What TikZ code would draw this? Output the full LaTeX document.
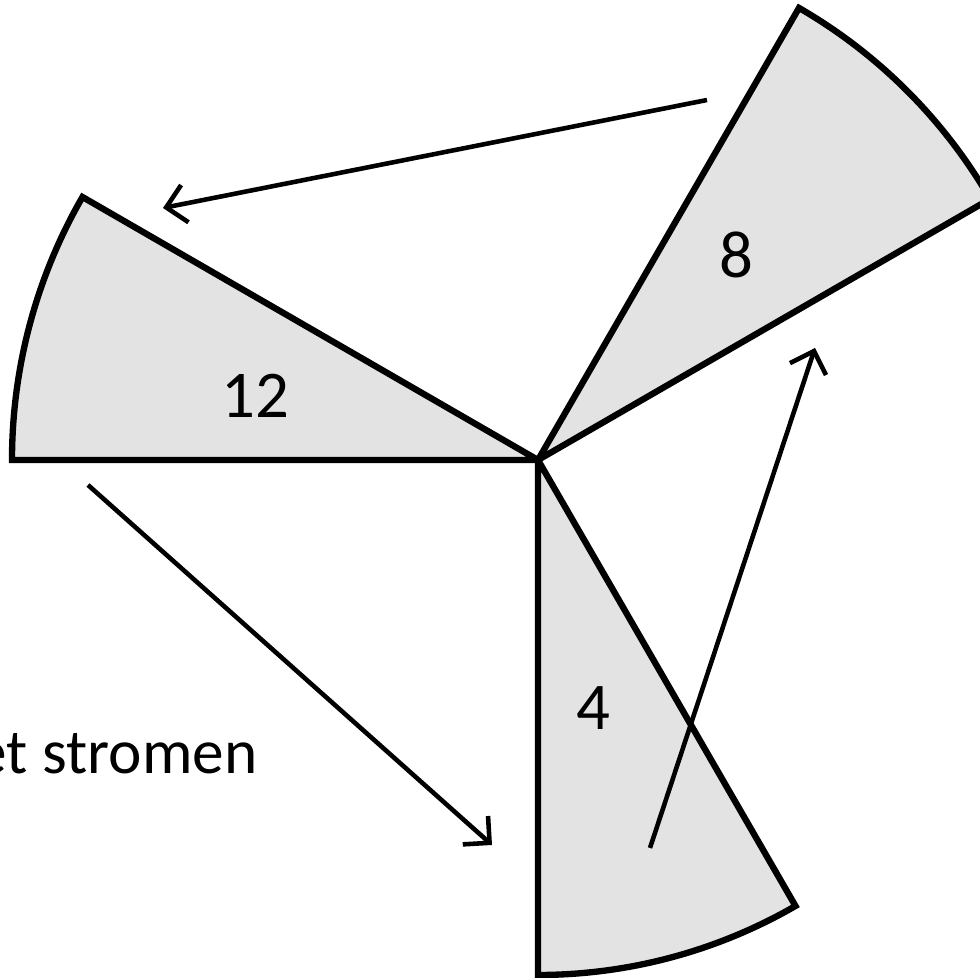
\documentclass[tikz,border=0pt]{standalone}
\usepackage{fontspec}
\setmainfont{Carlito}
\usetikzlibrary{arrows.meta}
\definecolor{SectorGray}{RGB}{227,227,227}

\begin{document}
\begin{tikzpicture}[
  font=\fontsize{19}{22}\selectfont,
  >={Straight Barb[length=1.9mm,width=3.8mm]},
  sector/.style={draw=black, fill=SectorGray, line width=1.8pt,
                 line join=miter, miter limit=2},
  turn/.style={->, line width=1.3pt, draw=black},
  count/.style={anchor=base, inner sep=0pt}
]
\useasboundingbox (0,0) rectangle (9.8,9.78);
\clip (0,0) rectangle (9.8,9.78);

% Common hub of the three sectors.
\coordinate (hub) at (5.38,5.18);

% Sectors, each a thirty-degree wedge.
\draw[sector] (hub) -- ++(150:5.26) arc[start angle=150, end angle=180, radius=5.26] -- cycle;
\draw[sector] (hub) -- ++(30:5.22) arc[start angle=30, end angle=60, radius=5.22] -- cycle;
\draw[sector] (hub) -- ++(270:5.15) arc[start angle=270, end angle=300, radius=5.15] -- cycle;

% Numbers in the sectors.
\node[count] (twelve) at (2.55,5.60) {12};
\node[count] (eight) at (7.36,7.00) {8};
\node[count] (four) at (5.93,2.48) {4};

\node[anchor=base east, inner sep=0pt, font=\fontsize{18}{21}\selectfont]
  (caption) at (2.58,2.04) {et stromen};

% End points of the turning arrows.
\coordinate (eightout) at (7.07,8.78);
\coordinate (twelvein) at (1.63,7.70);
\coordinate (twelveout) at (0.88,4.93);
\coordinate (fourin) at (4.92,1.33);
\coordinate (fourout) at (6.50,1.30);
\coordinate (eightin) at (8.15,6.30);

\draw[turn] (eightout) -- (twelvein);
\draw[turn] (twelveout) -- (fourin);
\draw[turn] (fourout) -- (eightin);

\end{tikzpicture}
\end{document}
